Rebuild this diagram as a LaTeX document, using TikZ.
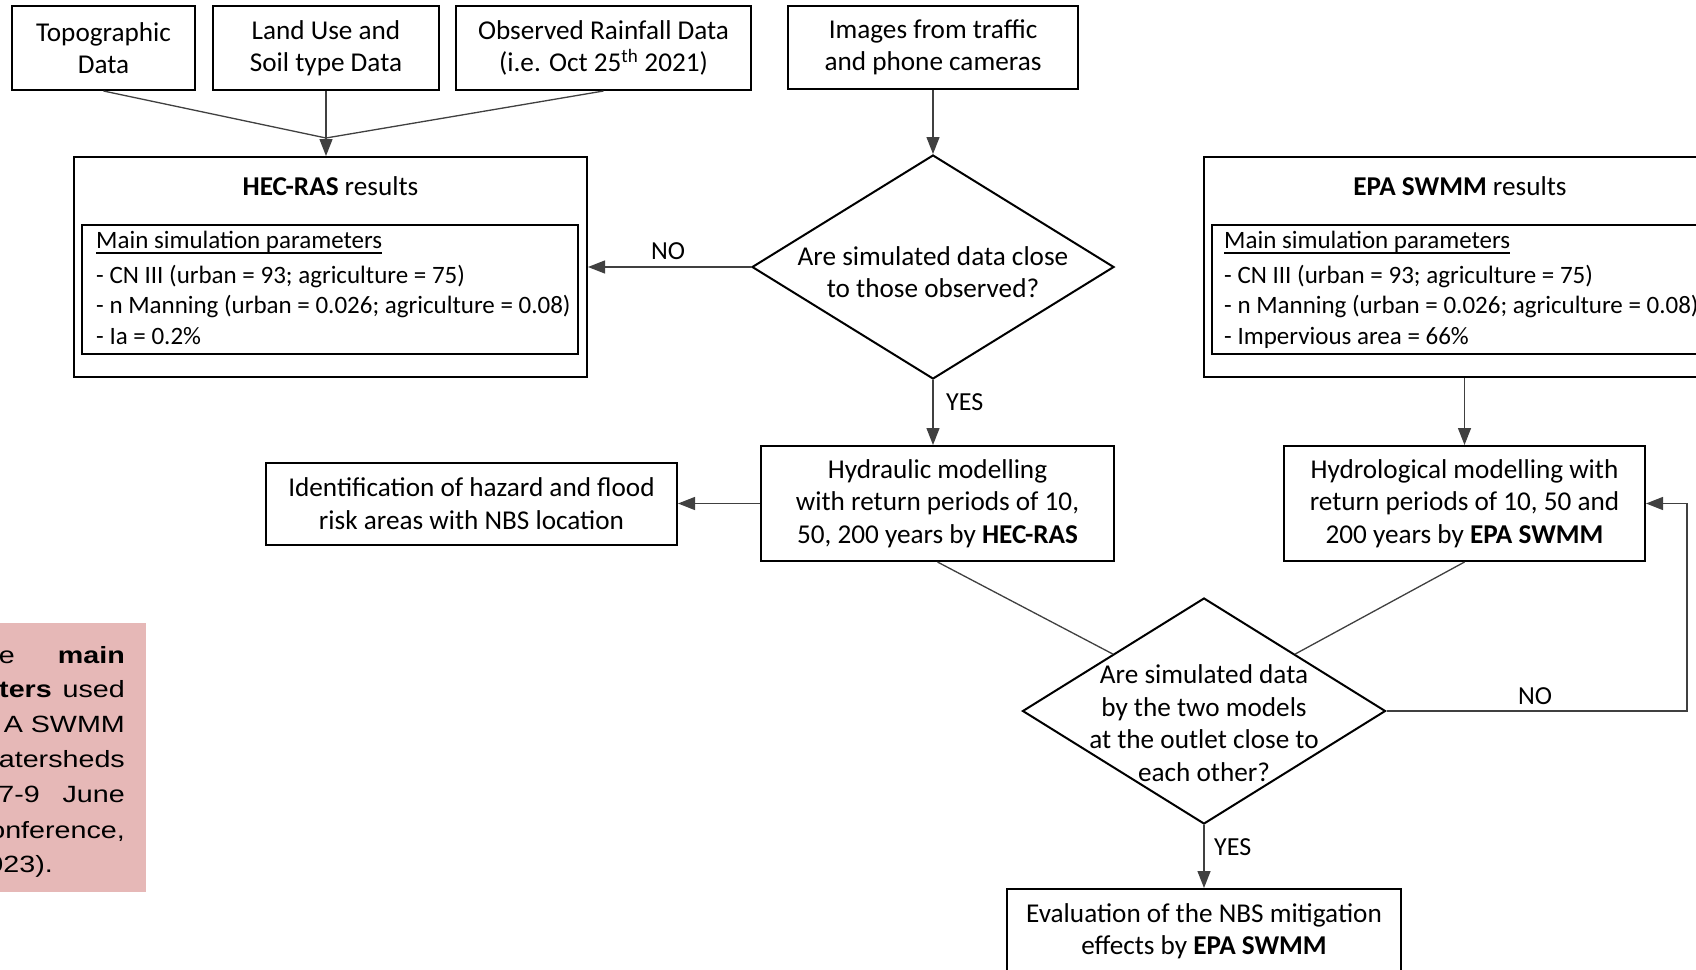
\documentclass[tikz,border=0pt]{standalone}
\usepackage{fontspec}
\setmainfont{Carlito}
\newfontfamily\arialf{Liberation Sans}[FakeStretch=1.22]
\usetikzlibrary{arrows.meta,shapes.geometric,calc}
\newcommand\flowfont{\fontsize{27.2}{32.5}\selectfont}
\newcommand\parfont{\fontsize{25}{30}\selectfont}
\newcommand\lblfont{\fontsize{26}{30}\selectfont}
\newcommand\pinkfont{\arialf\fontsize{23.5}{35}\selectfont}
\definecolor{pinkbg}{HTML}{E6B8B7}
\definecolor{connc}{HTML}{404040}
\begin{document}
\begin{tikzpicture}[x=1pt,y=-1pt,
  box/.style={draw=black,line width=2pt,inner sep=0pt,align=center,font=\flowfont},
  dia/.style={diamond,draw=black,line width=2pt,inner sep=0pt},
  txt/.style={inner sep=0pt,align=center,font=\flowfont},
  ptxt/.style={inner sep=0pt,anchor=base west,font=\parfont},
  ttl/.style={inner sep=0pt,anchor=base,font=\flowfont},
  lbl/.style={inner sep=0pt,font=\lblfont},
  pk/.style={inner sep=0pt,anchor=base east,font=\pinkfont},
  conn/.style={draw=connc,line width=1.3pt},
  arr/.style={conn,-{Triangle[length=17pt,width=13pt]}}]
\useasboundingbox (0,0) rectangle (1696,969);
\clip (0,0) rectangle (1696,969);
\fill[white] (0,0) rectangle (1696,969);

% pink caption fragment
\fill[pinkbg] (-5,623) rectangle (146,892);
\node[pk] (p1a) at (15,663) {e};
\node[pk] (p1b) at (125,663) {\textbf{main}};
\node[pk] (p2a) at (52,697) {\textbf{ters}};
\node[pk] (p2b) at (125,697) {used};
\node[pk] (p3) at (125,732) {A SWMM};
\node[pk] (p4) at (125,767) {atersheds};
\node[pk] (p5a) at (40,802) {7-9};
\node[pk] (p5b) at (125,802) {June};
\node[pk] (p6) at (125,838) {onference,};
\node[pk] (p7) at (53,872) {023).};

% top inputs
\node[box,minimum width=183pt,minimum height=84pt] (topo) at (103.5,48) {Topographic\\Data};
\node[box,minimum width=226pt,minimum height=84pt] (land) at (326,48) {Land Use and\\Soil type Data};
\node[box,minimum width=295pt,minimum height=84pt] (rain) at (603.5,48) {Observed Rainfall Data\\(i.e. Oct 25\textsuperscript{th} 2021)};
\node[box,minimum width=290pt,minimum height=83pt] (img) at (933,47.5) {Images from traffic\\and phone cameras};

% HEC-RAS results
\node[box,minimum width=513pt,minimum height=220pt] (hec) at (330.5,267) {};
\node[ttl] (hect) at (330.5,195) {\textbf{HEC-RAS} results};
\node[box,minimum width=496pt,minimum height=129pt] (hecin) at (330,289.5) {};
\node[ptxt] (hp0) at (96,248) {Main simulation parameters};
\draw[line width=1.2pt] ([yshift=-5pt]hp0.base west) -- ([yshift=-5pt]hp0.base east);
\node[ptxt] (hp1) at (96,283) {- CN III (urban = 93; agriculture = 75)};
\node[ptxt] (hp2) at (96,313) {- n Manning (urban = 0.026; agriculture = 0.08)};
\node[ptxt] (hp3) at (96,344) {- Ia = 0.2\%};

% EPA SWMM results
\node[box,minimum width=512pt,minimum height=220pt] (epa) at (1460,267) {};
\node[ttl] (epat) at (1460,195) {\textbf{EPA SWMM} results};
\node[box,minimum width=496pt,minimum height=129pt] (epain) at (1460,289.5) {};
\node[ptxt] (ep0) at (1224,248) {Main simulation parameters};
\draw[line width=1.2pt] ([yshift=-5pt]ep0.base west) -- ([yshift=-5pt]ep0.base east);
\node[ptxt] (ep1) at (1224,283) {- CN III (urban = 93; agriculture = 75)};
\node[ptxt] (ep2) at (1224,313) {- n Manning (urban = 0.026; agriculture = 0.08)};
\node[ptxt] (ep3) at (1224,344) {- Impervious area = 66\%};

% decision 1
\node[dia,minimum width=362pt,minimum height=224pt] (d1) at (933,267) {};
\node[txt] (d1t) at (933,272) {Are simulated data close\\to those observed?};

% modelling boxes
\node[box,minimum width=353pt,minimum height=115pt] (hyd) at (937.5,503.5) {Hydraulic modelling\\with return periods of 10,\\50, 200 years by \textbf{HEC-RAS}};
\node[box,minimum width=411pt,minimum height=82pt] (ident) at (471.5,503.5) {Identification of hazard and flood\\risk areas with NBS location};
\node[box,minimum width=361pt,minimum height=115pt] (hydro) at (1464.5,503.5) {Hydrological modelling with\\return periods of 10, 50 and\\200 years by \textbf{EPA SWMM}};

% decision 2
\node[dia,minimum width=363pt,minimum height=226pt] (d2) at (1204,711) {};
\node[txt] (d2t) at (1204,723) {Are simulated data\\by the two models\\at the outlet close to\\each other?};

% evaluation
\node[box,minimum width=394pt,minimum height=84pt] (eval) at (1204,931) {Evaluation of the NBS mitigation\\effects by \textbf{EPA SWMM}};

% connectors
\coordinate (m1) at (land.south |- 0,138);
\draw[conn] (topo.south) -- (m1);
\draw[conn] (rain.south) -- (m1);
\draw[arr] (land.south) -- (land.south |- hec.north);
\draw[arr] (img.south) -- (d1.north);
\draw[arr] (d1.west) -- (hec.east);
\node[lbl] (no1) at (668,251) {NO};
\draw[arr] (d1.south) -- (d1.south |- hyd.north);
\node[lbl,anchor=west] (yes1) at (946,402) {YES};
\draw[arr] (hyd.west |- ident.east) -- (ident.east);
\draw[arr] (hydro.north |- epa.south) -- (hydro.north);
\coordinate (d2a) at ($(d2.west)!0.5!(d2.north)$);
\coordinate (d2b) at ($(d2.east)!0.5!(d2.north)$);
\draw[conn] (hyd.south) -- (d2a);
\draw[conn] (hydro.south) -- (d2b);
\coordinate (c1) at (1687,711);
\draw[arr] (d2.east) -- (c1) |- (hydro.east);
\node[lbl] (no2) at (1535,696) {NO};
\draw[arr] (d2.south) -- (eval.north);
\node[lbl,anchor=west] (yes2) at (1214,847) {YES};
\end{tikzpicture}
\end{document}
